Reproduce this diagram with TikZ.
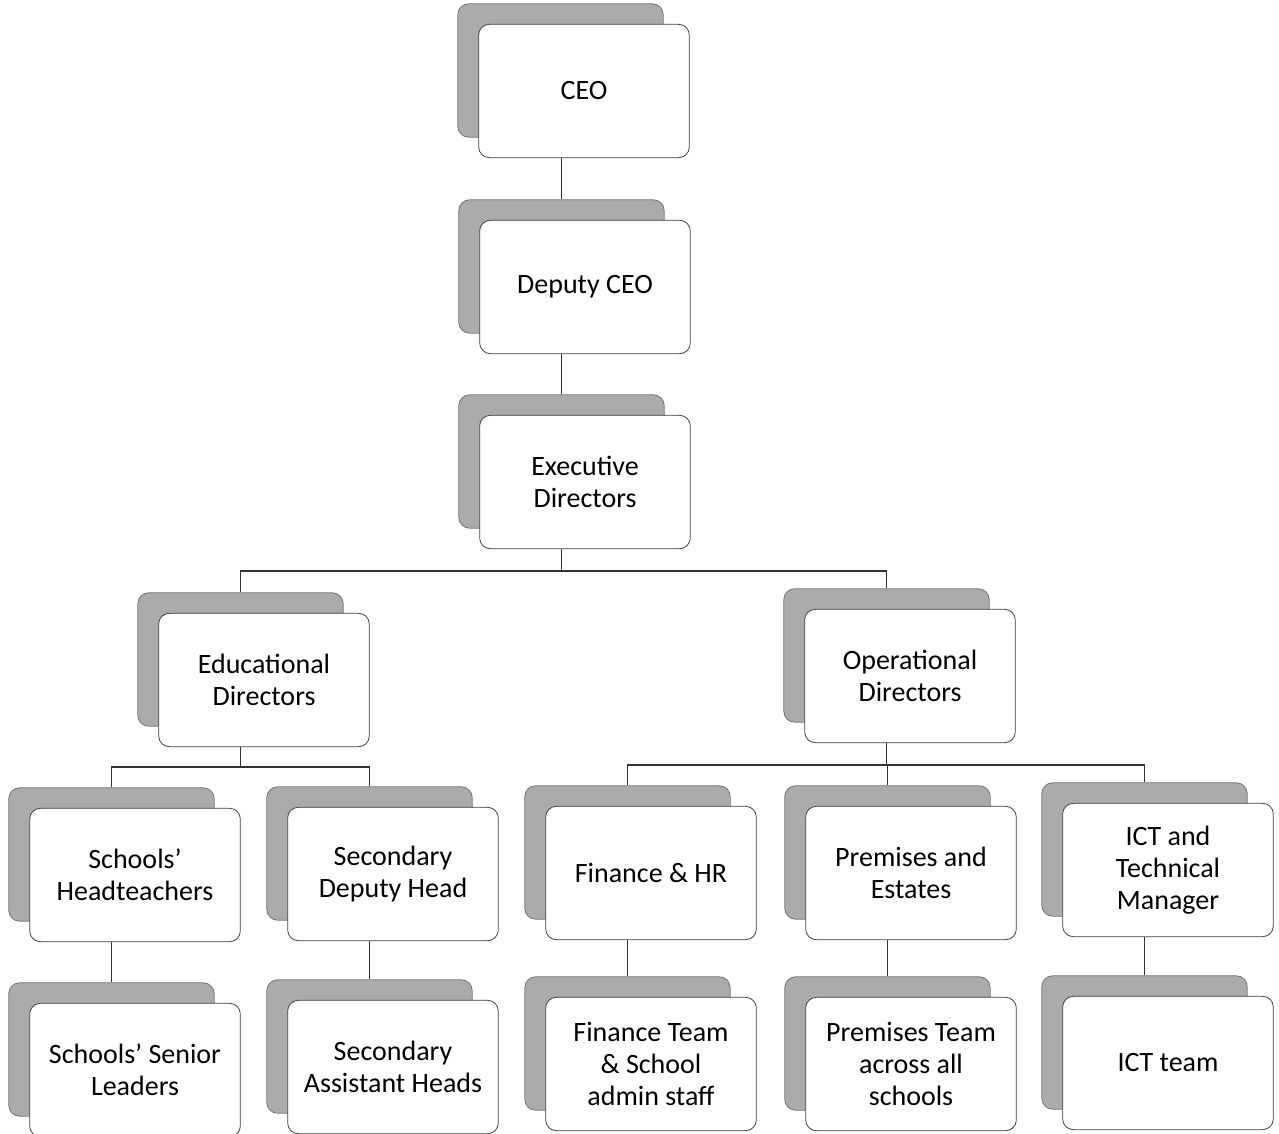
\documentclass[tikz,border=0pt]{standalone}
\usepackage{fontspec}
\setmainfont{Carlito}
\newcommand\orgfont{\fontsize{21}{24}\selectfont}
\tikzset{
  front/.style={draw=black!75, fill=white, rounded corners=8pt, minimum width=158pt,
    minimum height=100pt, align=center, font=\orgfont, line width=0.6pt, inner sep=2pt},
  shadowbox/.style={draw=black!55, fill=black!33, rounded corners=8pt, minimum width=154pt,
    minimum height=100pt, line width=0.6pt},
  link/.style={draw=black!80, line width=0.8pt}
}
\newcommand\orgnode[4]{%
  \node[shadowbox] (#1s) at (#2-23.5,#3-20.5) {};
  \node[front] (#1) at (#2,#3) {#4};
}
\begin{document}
\begin{tikzpicture}[x=0.75pt,y=-0.75pt]
\useasboundingbox[fill=white] (0,0) rectangle (1279,1134);
\orgnode{CEO}{584}{91}{CEO}
\orgnode{DEP}{585}{287}{Deputy CEO}
\orgnode{EXE}{585}{482}{Executive\\Directors}
\orgnode{EDU}{264}{680}{Educational\\Directors}
\orgnode{OPS}{910}{676}{Operational\\Directors}
\orgnode{SH}{135}{875}{Schools’\\Headteachers}
\orgnode{SDH}{393}{874}{Secondary\\Deputy Head}
\orgnode{FHR}{651}{873}{Finance \& HR}
\orgnode{PE}{911}{873}{Premises and\\Estates}
\orgnode{ICT}{1168}{870}{ICT and\\Technical\\Manager}
\orgnode{SSL}{135}{1070}{Schools’ Senior\\Leaders}
\orgnode{SAH}{393}{1067}{Secondary\\Assistant Heads}
\orgnode{FT}{651}{1064}{Finance Team\\\& School\\admin staff}
\orgnode{PT}{911}{1064}{Premises Team\\across all\\schools}
\orgnode{ICTT}{1168}{1063}{ICT team}
\coordinate (b1) at (0,571);
\coordinate (b2) at (0,767);
\coordinate (b3) at (0,765);
% top chain
\draw[link] (CEO.south -| DEPs.north) -- (DEPs.north);
\draw[link] (DEP.south -| EXEs.north) -- (EXEs.north);
% exec bus
\draw[link] (EXE.south -| EXEs.north) -- (EXEs.north |- b1);
\draw[link] (EDUs.north) -- (EDUs.north |- b1) -- (OPSs.north |- b1) -- (OPSs.north);
% educational bus
\draw[link] (EDU.south -| EDUs.north) -- (EDUs.north |- b2);
\draw[link] (SHs.north) -- (SHs.north |- b2) -- (SDHs.north |- b2) -- (SDHs.north);
% operational bus
\draw[link] (OPS.south -| OPSs.north) -- (OPSs.north |- b3);
\draw[link] (FHRs.north) -- (FHRs.north |- b3) -- (ICTs.north |- b3) -- (ICTs.north);
\draw[link] (PEs.north |- b3) -- (PEs.north);
% bottom links
\draw[link] (SH.south -| SSLs.north) -- (SSLs.north);
\draw[link] (SDH.south -| SAHs.north) -- (SAHs.north);
\draw[link] (FHR.south -| FTs.north) -- (FTs.north);
\draw[link] (PE.south -| PTs.north) -- (PTs.north);
\draw[link] (ICT.south -| ICTTs.north) -- (ICTTs.north);
\end{tikzpicture}
\end{document}
